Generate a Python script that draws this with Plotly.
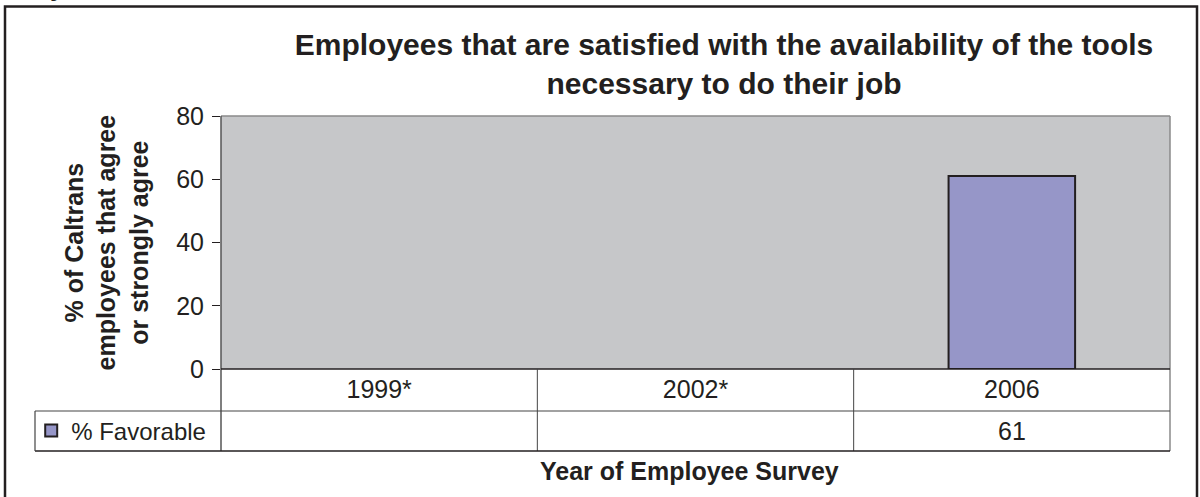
import plotly.graph_objects as go

# Survey data
years = ["1999*", "2002*", "2006"]
favorable = [None, None, 61]
series_name = "% Favorable"

title_text = ("<b>Employees that are satisfied with the availability of the tools<br>"
              "necessary to do their job</b>")
y_title = "<b>% of Caltrans<br>employees that agree<br>or strongly agree</b>"
x_title = "<b>Year of Employee Survey</b>"

W, H = 1200, 497
PL, PR, PT, PB = 221, 1170, 116, 369          # plot area in pixels
FONT = "Liberation Sans, Arial, Helvetica, sans-serif"
INK = "#231f20"


def fx(px):
    """pixel x -> paper x"""
    return (px - PL) / (PR - PL)


def fy(py):
    """pixel y -> paper y"""
    return (PB - py) / (PB - PT)


ROW1, ROW2 = 411, 451          # data-table row separators (pixels)
LEG_LEFT = 35

fig = go.Figure()
fig.add_trace(go.Bar(
    x=years, y=favorable, name=series_name, width=0.4,
    marker=dict(color="#9696c8", line=dict(color=INK, width=2)),
    showlegend=True,
))

shapes = []
# outer frame
shapes.append(dict(type="rect", xref="paper", yref="paper",
                   x0=fx(5), x1=fx(1197), y0=fy(6.5), y1=fy(520),
                   line=dict(color=INK, width=2.5), layer="above"))
# plot top / right border (grey)
shapes.append(dict(type="line", xref="paper", yref="paper",
                   x0=0, x1=1, y0=1, y1=1, line=dict(color="#8a8a8a", width=1.5)))
shapes.append(dict(type="line", xref="paper", yref="paper",
                   x0=1, x1=1, y0=1, y1=fy(ROW2), line=dict(color="#8a8a8a", width=1.5)))
# left axis line continuing through the data table
shapes.append(dict(type="line", xref="paper", yref="paper",
                   x0=0, x1=0, y0=1, y1=fy(ROW2), line=dict(color="#555555", width=1.5)))
# x axis line
shapes.append(dict(type="line", xref="paper", yref="paper",
                   x0=0, x1=1, y0=0, y1=0, line=dict(color=INK, width=1.5)))
# column separators between categories
for b in (0.5, 1.5):
    shapes.append(dict(type="line", xref="x", yref="paper",
                       x0=b, x1=b, y0=0, y1=fy(ROW2), line=dict(color="#444444", width=1)))
# row lines of the data table
shapes.append(dict(type="line", xref="paper", yref="paper",
                   x0=fx(LEG_LEFT), x1=1, y0=fy(ROW1), y1=fy(ROW1),
                   line=dict(color="#444444", width=1.2)))
shapes.append(dict(type="line", xref="paper", yref="paper",
                   x0=fx(LEG_LEFT), x1=1, y0=fy(ROW2), y1=fy(ROW2),
                   line=dict(color=INK, width=1.5)))
shapes.append(dict(type="line", xref="paper", yref="paper",
                   x0=fx(LEG_LEFT), x1=fx(LEG_LEFT), y0=fy(ROW1), y1=fy(ROW2),
                   line=dict(color="#444444", width=1.2)))

annotations = []
# values row of the data table
for i, v in enumerate(favorable):
    if v is not None:
        annotations.append(dict(x=i, xref="x", y=fy((ROW1 + ROW2) / 2), yref="paper",
                                xanchor="center", yanchor="middle",
                                text=str(v), showarrow=False,
                                font=dict(family=FONT, size=25, color=INK)))
# y axis title
annotations.append(dict(x=fx(106), xref="paper", y=0.5, yref="paper",
                        xanchor="center", yanchor="middle",
                        text=y_title, textangle=-90, showarrow=False,
                        font=dict(family=FONT, size=25, color=INK)))
# x axis title
annotations.append(dict(x=fx(689), xref="paper", y=fy(471), yref="paper",
                        xanchor="center", yanchor="middle",
                        text=x_title, showarrow=False,
                        font=dict(family=FONT, size=25, color=INK)))
# heading text running off the top edge
annotations.append(dict(x=fx(57), xref="paper", y=fy(-13), yref="paper",
                        xanchor="center", yanchor="middle",
                        text="<b>y</b>", showarrow=False,
                        font=dict(family=FONT, size=26, color=INK)))

fig.update_layout(
    width=W, height=H,
    margin=dict(l=PL, r=W - PR, t=PT, b=H - PB, pad=0),
    paper_bgcolor="white",
    plot_bgcolor="#c6c7c9",
    font=dict(family=FONT, size=24, color=INK),
    title=dict(text=title_text, x=724 / W, xanchor="center",
               y=1 - 54.5 / H, yanchor="middle", yref="container",
               font=dict(family=FONT, size=30, color=INK)),
    xaxis=dict(type="category", categoryorder="array", categoryarray=years,
               range=[-0.5, 2.5], showgrid=False, showline=False, zeroline=False,
               ticks="", ticklabelstandoff=3,
               tickfont=dict(family=FONT, size=25, color=INK),
               fixedrange=True),
    yaxis=dict(range=[0, 80], dtick=20, showgrid=False, zeroline=False,
               showline=False, ticks="outside", ticklen=8, tickwidth=1,
               tickcolor=INK, ticklabelstandoff=3,
               tickfont=dict(family=FONT, size=25, color=INK),
               fixedrange=True),
    legend=dict(x=fx(LEG_LEFT) - 0.004, xanchor="left",
                y=fy((ROW1 + ROW2) / 2), yanchor="middle",
                bgcolor="rgba(0,0,0,0)", borderwidth=0,
                font=dict(family=FONT, size=24, color=INK)),
    shapes=shapes,
    annotations=annotations,
    bargap=0.6,
)

fig.write_html("out.html")
